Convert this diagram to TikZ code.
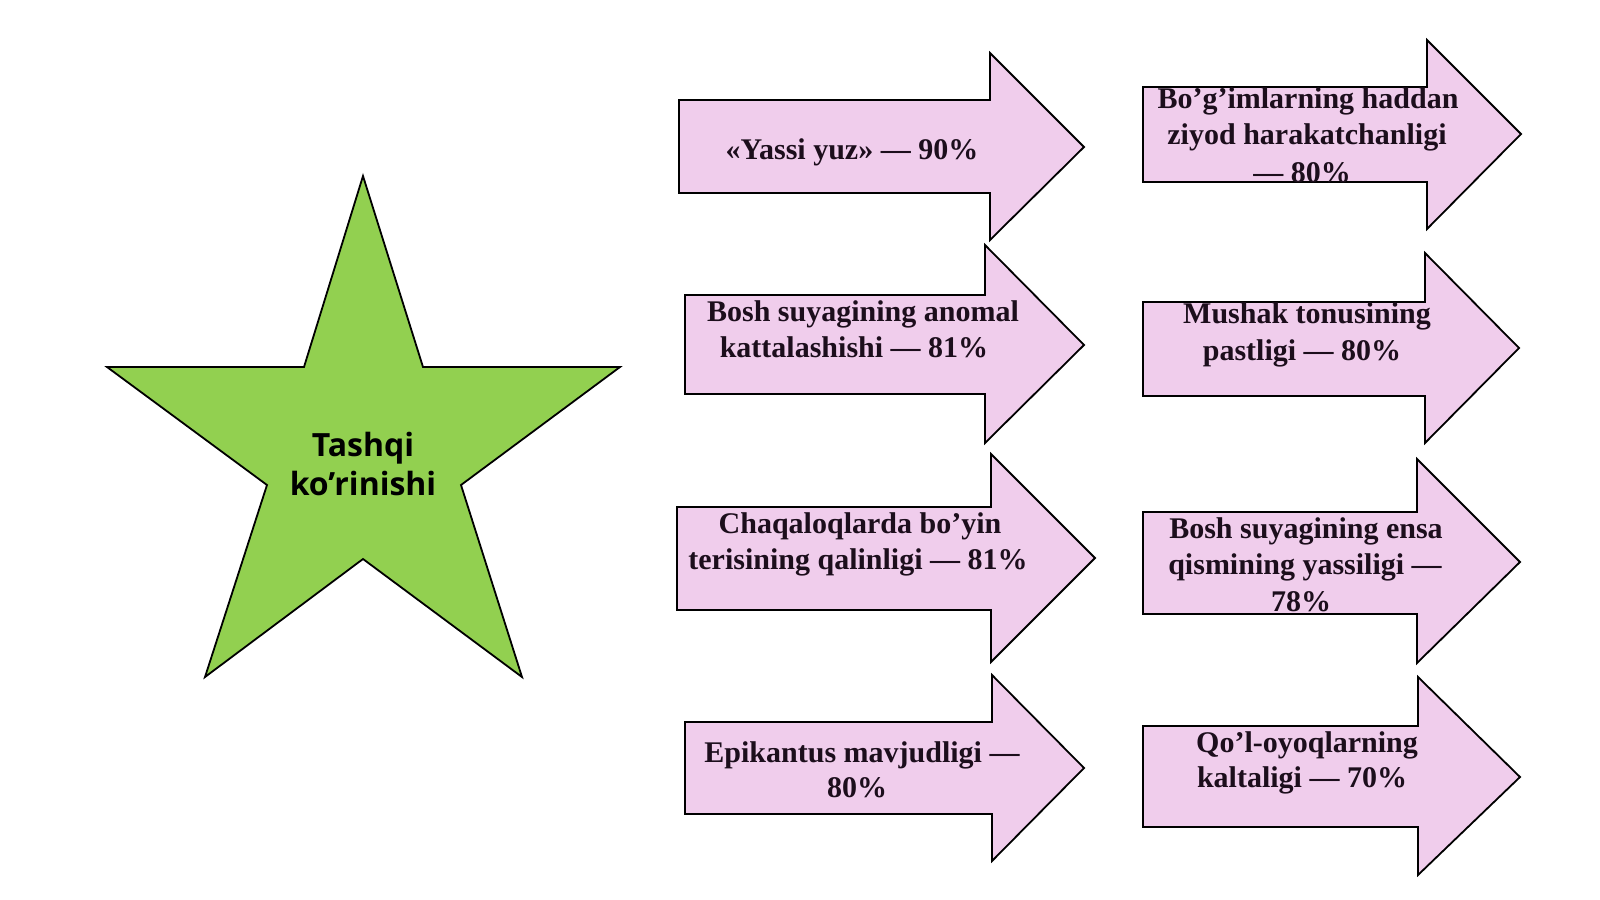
\documentclass[tikz,border=0pt]{standalone}
\usepackage{fontspec}
\setmainfont{Liberation Serif}
\newfontfamily\starfont{Open Sans}
\definecolor{stargreen}{RGB}{146,208,80}
\definecolor{arrowpink}{RGB}{240,205,236}
\definecolor{txtdark}{RGB}{28,14,28}
% #1 name, #2 left, #3 top, #4 bottom, #5 head x, #6 head top, #7 head bottom, #8 tip x, #9 tip y
\newcommand\fatarrow[9]{%
  \draw[arrowbox] (#2,#3) -- (#5,#3) -- (#5,#6) -- (#8,#9) coordinate (#1-tip)
    -- (#5,#7) -- (#5,#4) -- (#2,#4) -- cycle;
  \path[clip] (#2,#3) -- (#5,#3) -- (#5,#6) -- (#8,#9)
    -- (#5,#7) -- (#5,#4) -- (#2,#4) -- cycle;}
\tikzset{
  arrowbox/.style={fill=arrowpink, draw=black, line width=0.9pt, line join=miter},
  starshape/.style={fill=stargreen, draw=black, line width=0.9pt, line join=miter},
  armtext/.style={anchor=base, inner sep=0pt, text=txtdark,
    font=\bfseries\fontsize{15}{18}\selectfont},
  startext/.style={anchor=base, inner sep=0pt, text=black,
    font=\starfont\bfseries\fontsize{16}{19}\selectfont}
}
\begin{document}
\begin{tikzpicture}[x=0.5pt,y=-0.5pt]
\useasboundingbox[fill=white] (0,0) rectangle (1600,899);

% star
\draw[starshape] (363,176) -- (423,367) -- (620,367) -- (461,485) -- (522,677)
  -- (363,559) -- (205,677) -- (267,485) -- (107,367) -- (304,367) -- cycle;
\node[startext] (s1) at (363,456) {Tashqi};
\node[startext] (s2) at (363,495) {ko’rinishi};

% arrow 1
\begin{scope}
\fatarrow{a1}{679}{100}{193}{990}{53}{240}{1084}{147}
\node[armtext] (a1l1) at (852,159) {«Yassi yuz» — 90\%};
\end{scope}
% arrow 2
\begin{scope}
\fatarrow{a2}{1143}{87}{182}{1427}{40}{229}{1521}{134}
\node[armtext] (a2l1) at (1308,109) {Bo’g’imlarning haddan};
\node[armtext] (a2l2) at (1307,145) {ziyod harakatchanligi};
\node[armtext] (a2l3) at (1302,182) {— 80\%};
\end{scope}
% arrow 3
\begin{scope}
\fatarrow{a3}{685}{295}{394}{985}{245}{443}{1084}{345}
\node[armtext] (a3l1) at (863,321) {Bosh suyagining anomal};
\node[armtext] (a3l2) at (854,357) {kattalashishi — 81\%};
\end{scope}
% arrow 4
\begin{scope}
\fatarrow{a4}{1143}{302}{396}{1425}{253}{443}{1519}{348}
\node[armtext] (a4l1) at (1307,323) {Mushak tonusining};
\node[armtext] (a4l2) at (1302,360) {pastligi — 80\%};
\end{scope}
% arrow 5
\begin{scope}
\fatarrow{a5}{677}{507}{610}{991}{454}{662}{1095}{558}
\node[armtext] (a5l1) at (860,533) {Chaqaloqlarda bo’yin};
\node[armtext] (a5l2) at (858,569) {terisining qalinligi — 81\%};
\end{scope}
% arrow 6
\begin{scope}
\fatarrow{a6}{1143}{512}{614}{1417}{459}{663}{1520}{562}
\node[armtext] (a6l1) at (1306,538) {Bosh suyagining ensa};
\node[armtext] (a6l2) at (1305,574) {qismining yassiligi —};
\node[armtext] (a6l3) at (1301,611) {78\%};
\end{scope}
% arrow 7
\begin{scope}
\fatarrow{a7}{685}{722}{814}{992}{675}{861}{1084}{768}
\node[armtext] (a7l1) at (862,762) {Epikantus mavjudligi —};
\node[armtext] (a7l2) at (857,797) {80\%};
\end{scope}
% arrow 8
\begin{scope}
\fatarrow{a8}{1143}{726}{827}{1418}{677}{875}{1520}{777}
\node[armtext] (a8l1) at (1307,752) {Qo’l-oyoqlarning};
\node[armtext] (a8l2) at (1302,787) {kaltaligi — 70\%};
\end{scope}
\end{tikzpicture}
\end{document}
